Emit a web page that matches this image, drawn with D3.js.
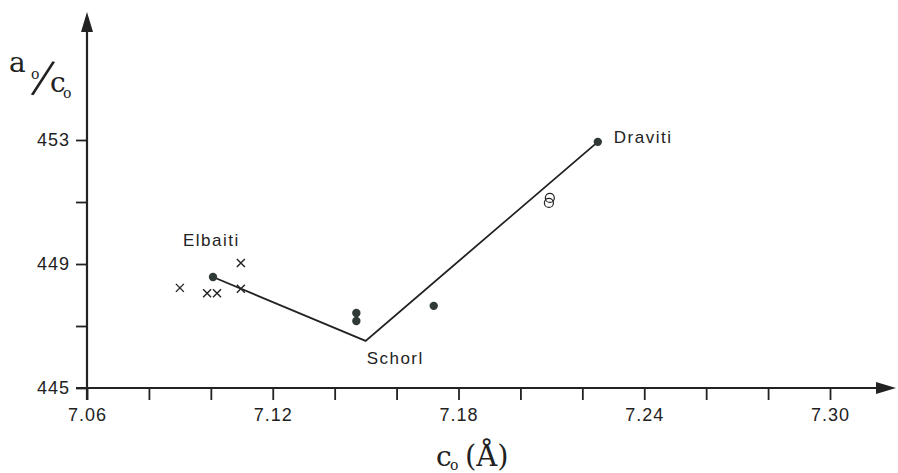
<!DOCTYPE html>
<html>
<head>
<meta charset="utf-8">
<script src="https://cdn.jsdelivr.net/npm/d3@7"></script>
<style>
  body { margin: 0; background: #fff; }
  svg { display: block; }
  .tick text { font-family: "Liberation Sans", Arial, sans-serif; font-size: 18px; fill: #222; letter-spacing: 1px; }
  .lbl { font-family: "Liberation Sans", Arial, sans-serif; font-size: 17px; fill: #222; letter-spacing: 1.5px; }
  .serif { font-family: "DejaVu Serif", "Liberation Serif", serif; fill: #222; }
</style>
</head>
<body>
<svg id="chart" width="898" height="473"></svg>
<script>
// tick values
var xTicks = [7.06, 7.08, 7.10, 7.12, 7.14, 7.16, 7.18, 7.20, 7.22, 7.24, 7.26, 7.28, 7.30];
var xLabels = [7.06, 7.12, 7.18, 7.24, 7.30];
var yTicks = [445, 447, 449, 451, 453];
var yLabels = [445, 449, 453];

// trend line: Elbaiti -> Schorl -> Draviti
var lineC = [7.1007, 7.150, 7.225];
var lineA = [448.58, 446.52, 452.94];

// filled dots
var dotC = [7.1007, 7.147, 7.147, 7.172, 7.225];
var dotA = [448.58, 447.42, 447.16, 447.65, 452.94];

// crosses
var crossC = [7.090, 7.0988, 7.102, 7.1097, 7.1097];
var crossA = [448.23, 448.06, 448.06, 449.03, 448.20];

// open circles
var ringC = [7.2095, 7.2092];
var ringA = [451.13, 450.97];

// end-member labels
var names = ["Elbaiti", "Schorl", "Draviti"];

var svg = d3.select("#chart");
var ink = "#222";

var x = d3.scaleLinear().domain([7.06, 7.30]).range([87, 830]);
var y = d3.scaleLinear().domain([445, 453]).range([388, 140]);

// y axis
var yAxis = d3.axisLeft(y)
    .tickValues(yTicks)
    .tickSize(11)
    .tickPadding(6)
    .tickFormat(function (d) { return yLabels.indexOf(d) >= 0 ? d : ""; });

var gy = svg.append("g").attr("transform", "translate(87,0)").call(yAxis);
gy.select(".domain").remove();
gy.selectAll(".tick line").attr("stroke", ink).attr("stroke-width", 1.8);

// x axis
var xAxis = d3.axisBottom(x)
    .tickValues(xTicks)
    .tickSize(12)
    .tickPadding(8)
    .tickFormat(function (d) {
        return xLabels.some(function (v) { return Math.abs(v - d) < 1e-6; }) ? d3.format(".2f")(d) : "";
    });

var gx = svg.append("g").attr("transform", "translate(0,388)").call(xAxis);
gx.select(".domain").remove();
gx.selectAll(".tick line").attr("stroke", ink).attr("stroke-width", 1.8);

// axis lines with arrows
svg.append("line")
    .attr("x1", 87).attr("y1", y(445) + 12)
    .attr("x2", 87).attr("y2", 28)
    .attr("stroke", ink).attr("stroke-width", 2.2);
svg.append("path")
    .attr("d", "M87,12 L81,32 L93,32 Z")
    .attr("fill", ink);

svg.append("line")
    .attr("x1", 76).attr("y1", 388)
    .attr("x2", 880).attr("y2", 388)
    .attr("stroke", ink).attr("stroke-width", 2.2);
svg.append("path")
    .attr("d", "M896,388 L876,382 L876,394 Z")
    .attr("fill", ink);

// trend line
var line = d3.line()
    .x(function (d, i) { return x(lineC[i]); })
    .y(function (d, i) { return y(lineA[i]); });

svg.append("path")
    .datum(lineC)
    .attr("d", line)
    .attr("fill", "none")
    .attr("stroke", ink)
    .attr("stroke-width", 1.8);

// filled dots
svg.selectAll(".dot")
    .data(dotC)
    .enter()
    .append("circle")
    .attr("class", "dot")
    .attr("cx", function (d) { return x(d); })
    .attr("cy", function (d, i) { return y(dotA[i]); })
    .attr("r", 4.2)
    .attr("fill", "#2f3a36");

// crosses
svg.selectAll(".cross")
    .data(crossC)
    .enter()
    .append("path")
    .attr("class", "cross")
    .attr("d", function (d, i) {
        var cx = x(d), cy = y(crossA[i]), s = 4;
        return "M" + (cx - s) + "," + (cy - s) + "L" + (cx + s) + "," + (cy + s) +
               "M" + (cx - s) + "," + (cy + s) + "L" + (cx + s) + "," + (cy - s);
    })
    .attr("stroke", ink)
    .attr("stroke-width", 1.4);

// open circles
svg.selectAll(".ring")
    .data(ringC)
    .enter()
    .append("circle")
    .attr("class", "ring")
    .attr("cx", function (d) { return x(d); })
    .attr("cy", function (d, i) { return y(ringA[i]); })
    .attr("r", 4.5)
    .attr("fill", "none")
    .attr("stroke", ink)
    .attr("stroke-width", 1.2);

// end-member labels
svg.append("text").attr("class", "lbl")
    .attr("x", x(lineC[0]) - 30).attr("y", y(lineA[0]) - 31)
    .text(names[0]);
svg.append("text").attr("class", "lbl")
    .attr("x", x(lineC[1]) + 1).attr("y", y(lineA[1]) + 23)
    .text(names[1]);
svg.append("text").attr("class", "lbl")
    .attr("x", x(lineC[2]) + 16).attr("y", y(lineA[2]) + 1)
    .text(names[2]);

// y axis title a0/c0, one text with tspans
var yt = svg.append("text").attr("class", "serif");
yt.append("tspan").attr("x", 9).attr("y", 72).attr("font-size", 28).text("a");
yt.append("tspan").attr("x", 31).attr("y", 79).attr("font-size", 14).text("o");
yt.append("tspan").attr("x", 31).attr("y", 94)
    .attr("font-family", "Liberation Serif, serif")
    .attr("font-size", 56)
    .attr("rotate", 14)
    .text("/");
yt.append("tspan").attr("x", 50).attr("y", 92).attr("font-size", 28).text("c");
yt.append("tspan").attr("x", 63).attr("y", 98).attr("font-size", 14).text("o");

// x axis title c0 (Å)
var xt = svg.append("text").attr("class", "serif");
xt.append("tspan").attr("x", 436).attr("y", 466).attr("font-size", 28).text("c");
xt.append("tspan").attr("x", 450).attr("y", 470).attr("font-size", 14).text("o");
xt.append("tspan").attr("x", 465).attr("y", 466).attr("font-size", 29).text("(Å)");
</script>
</body>
</html>
